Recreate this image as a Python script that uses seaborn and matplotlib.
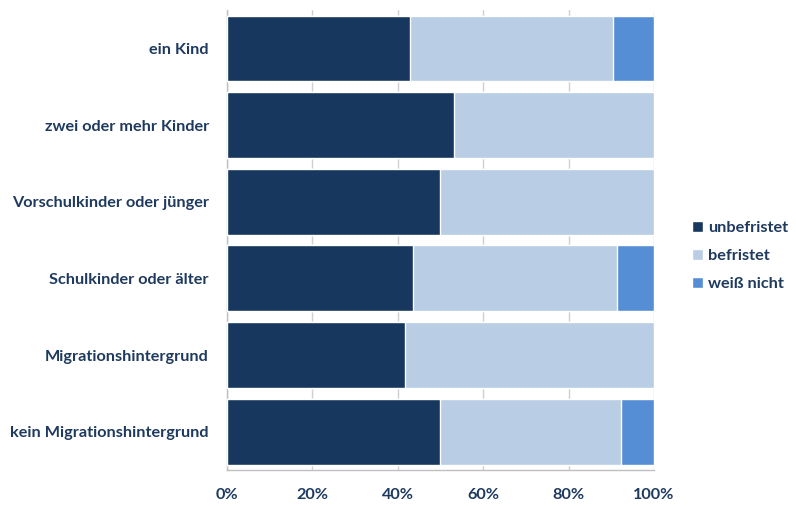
import pandas as pd
import matplotlib.pyplot as plt
import seaborn as sns
from matplotlib.patches import Patch
from matplotlib.ticker import PercentFormatter

# Werte (in %)
kategorien = ['ein Kind', 'zwei oder mehr Kinder', 'Vorschulkinder oder jünger',
              'Schulkinder oder älter', 'Migrationshintergrund', 'kein Migrationshintergrund']
unbefristet = [42.9, 53.1, 50.0, 43.5, 41.7, 50.0]
befristet = [47.6, 46.9, 50.0, 47.8, 58.3, 42.3]
weiss_nicht = [9.5, 0.0, 0.0, 8.7, 0.0, 7.7]

serien = ['unbefristet', 'befristet', 'weiß nicht']
farben = ['#17375E', '#B9CDE5', '#558ED5']
textfarbe = '#1F3A5F'

df = pd.DataFrame({'Kategorie': kategorien, 'unbefristet': unbefristet,
                   'befristet': befristet, 'weiß nicht': weiss_nicht})
df['bis_befristet'] = df['unbefristet'] + df['befristet']
df['gesamt'] = df['bis_befristet'] + df['weiß nicht']

sns.set_style('white')
plt.rcParams['font.family'] = ['Lato', 'DejaVu Sans']

fig = plt.figure(figsize=(7.96, 5.07), dpi=100)
ax = fig.add_axes([0.285, 0.073, 0.5366, 0.907])

# gestapelt: von hinten nach vorne zeichnen
for spalte, farbe in zip(['gesamt', 'bis_befristet', 'unbefristet'], farben[::-1]):
    sns.barplot(data=df, x=spalte, y='Kategorie', color=farbe, width=0.86,
                orient='h', ax=ax, zorder=3, saturation=1)

ax.set_xlim(0, 100)
ax.set_ylim(5.5, -0.5)
ax.set_xticks([0, 20, 40, 60, 80, 100])
ax.xaxis.set_major_formatter(PercentFormatter(decimals=0))
ax.grid(axis='x', color='#D0D0D0', linewidth=1, zorder=0)
ax.set_xlabel('')
ax.set_ylabel('')

for side in ['top', 'right']:
    ax.spines[side].set_visible(False)
for side in ['left', 'bottom']:
    ax.spines[side].set_color('#BFBFBF')
    ax.spines[side].set_linewidth(1)

ax.tick_params(axis='x', length=5, color='#BFBFBF', colors=textfarbe, labelsize=11.7, pad=8)
ax.tick_params(axis='y', length=0, colors=textfarbe, labelsize=11.7, pad=13)
for lbl in ax.get_xticklabels() + ax.get_yticklabels():
    lbl.set_fontweight('bold')

handles = [Patch(facecolor=f, label=s) for s, f in zip(serien, farben)]
leg = fig.legend(handles=handles, loc='center left', bbox_to_anchor=(0.851, 0.495),
                 frameon=False, handlelength=0.65, handleheight=0.65,
                 handletextpad=0.35, labelspacing=0.85, prop={'weight': 'bold', 'size': 11.7})
for t in leg.get_texts():
    t.set_color(textfarbe)

fig.savefig('out.png', dpi=100)
